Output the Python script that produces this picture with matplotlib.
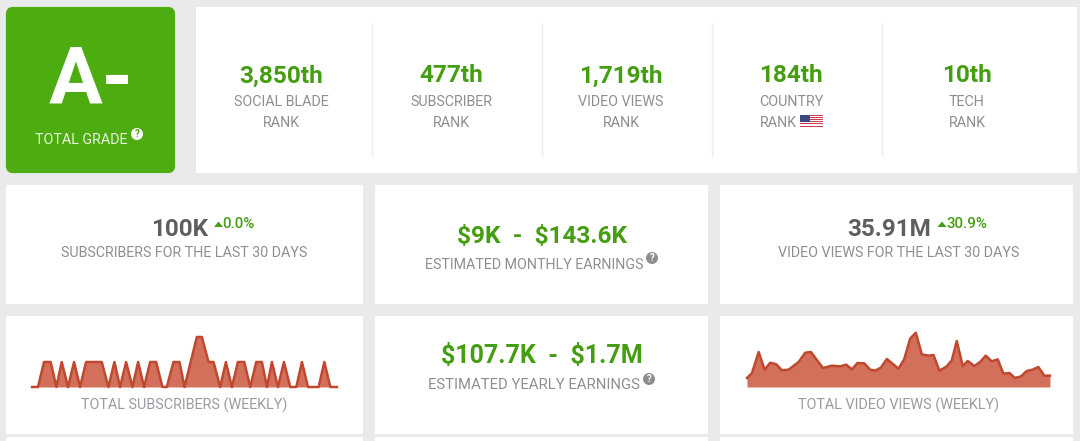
import matplotlib
matplotlib.use("Agg")
import matplotlib.pyplot as plt
from matplotlib.patches import Rectangle, FancyBboxPatch, Circle, Polygon

plt.rcParams["font.family"] = ["Roboto", "DejaVu Sans"]

grade = "A-"
rank_values = ["3,850th", "477th", "1,719th", "184th", "10th"]
rank_labels = [["SOCIAL BLADE", "RANK"], ["SUBSCRIBER", "RANK"], ["VIDEO VIEWS", "RANK"],
               ["COUNTRY", "RANK"], ["TECH", "RANK"]]

# weekly subscribers, x, y in steps
sub_x = [96, 114, 132, 152, 169, 185, 204, 222, 240, 258, 305, 325, 343, 360, 378, 397, 414, 432, 450, 468,
         487, 500, 520, 538, 553, 590, 605, 625, 640, 660, 677, 695, 713, 732, 750, 768, 785, 800, 815, 833,
         851, 870, 888, 905, 923, 955, 972, 990, 1010]
sub_y = [0, 0, 1, 1, 0, 1, 0, 1, 0, 1, 1, 0, 1, 0, 1, 0, 1, 0, 1, 1,
         0, 0, 1, 1, 0, 2, 2, 1, 1, 0, 1, 0, 1, 1, 0, 1, 1, 0, 1, 0,
         1, 0, 0, 1, 0, 0, 1, 0, 0]

# weekly video views, same idea
view_x = [80, 95, 115, 133, 150, 168, 185, 205, 235, 255, 272, 308, 335, 360, 378, 395, 412, 432, 450, 465,
          482, 500, 535, 552, 570, 587, 605, 625, 640, 658, 680, 695, 710, 728, 743, 763, 780, 797, 815, 833,
          850, 868, 885, 903, 920, 938, 955, 973, 990]
view_y = [27, 42, 105, 52, 73, 68, 50, 52, 75, 103, 105, 57, 64, 62, 67, 53, 72, 71, 52, 49,
          58, 84, 55, 83, 145, 163, 98, 94, 96, 49, 62, 80, 138, 63, 78, 63, 75, 94, 77, 83,
          40, 42, 27, 32, 48, 52, 60, 34, 34]

BG = "#e9eaec"
GREEN = "#459e12"
GREY = "#8e8e8e"
DARK = "#5f5f5f"

fig = plt.figure(figsize=(10.8, 4.41), dpi=100, facecolor=BG)
ax = fig.add_axes([0, 0, 1, 1])
ax.set_xlim(0, 1080)
ax.set_ylim(441, 0)
ax.axis("off")


def card(x0, y0, x1, y1):
    ax.add_patch(Rectangle((x0, y0), x1 - x0, y1 - y0, fc="white", ec="none", zorder=1))


def txt(x, y, s, size, color=GREY, weight="normal", ha="center"):
    ax.text(x, y, s, fontsize=size, color=color, fontweight=weight, ha=ha, va="center", zorder=3)


def help_icon(x, y, fc="#8e8e8e", fg="white"):
    ax.add_patch(Circle((x, y), 6, fc=fc, ec="none", zorder=3))
    ax.text(x, y + 0.3, "?", fontsize=7, color=fg, fontweight="bold", ha="center", va="center", zorder=4)


def up_arrow(x, y):
    ax.add_patch(Polygon([(x - 4.5, y + 3), (x + 4.5, y + 3), (x, y - 2.5)], fc=GREEN, ec="none", zorder=3))


# grade box
ax.add_patch(FancyBboxPatch((8, 9), 165, 162, boxstyle="round,pad=0,rounding_size=5", fc="#4cac10",
                            ec="#4cac10", lw=3, zorder=1))
txt(91, 82, grade, 57.5, color="white", weight="bold")
txt(81, 140, "TOTAL GRADE", 10.3, color="#e8f5df")
help_icon(137, 134, fc="white", fg="#4cac10")

# ranks
card(196, 7, 1077, 173)
for x in [372, 542, 712, 882]:
    ax.plot([x, x], [24, 156], color="#eeeeee", lw=1, zorder=2)
rank_cx = [281, 451, 621, 791, 967]
for cx, val, lab in zip(rank_cx, rank_values, rank_labels):
    txt(cx, 76, val, 17.6, color=GREEN, weight="bold")
    txt(cx, 102, lab[0], 10.3)
    if lab[0] == "COUNTRY":
        txt(cx - 13, 123, lab[1], 10.3)
    else:
        txt(cx, 123, lab[1], 10.3)

# little flag next to the country rank
ax.add_patch(Rectangle((800, 115), 23, 12.5, fc="white", ec="none", zorder=3))
for i in range(0, 7):
    ax.add_patch(Rectangle((800, 115 + i * 1.9), 23, 0.95, fc="#d2384e", ec="none", zorder=4))
ax.add_patch(Rectangle((800, 115), 9.5, 7, fc="#3c4a80", ec="none", zorder=5))

# middle row
card(6, 185, 363, 304)
card(375, 185, 708, 304)
card(720, 185, 1073, 304)
txt(180, 229, "100K", 17.5, color=DARK, weight="bold")
up_arrow(218.5, 224)
txt(222.5, 223.5, "0.0%", 10.8, color=GREEN, weight="medium", ha="left")
txt(184.5, 253, "SUBSCRIBERS FOR THE LAST 30 DAYS", 10.3)
txt(542, 236.5, r"\$9K  -  \$143.6K", 17.6, color=GREEN, weight="bold")
txt(534, 265, "ESTIMATED MONTHLY EARNINGS", 10.3)
help_icon(652, 258)
txt(889, 229, "35.91M", 17.5, color=DARK, weight="bold")
up_arrow(942, 224)
txt(946.5, 223.5, "30.9%", 10.8, color=GREEN, weight="medium", ha="left")
txt(899, 253, "VIDEO VIEWS FOR THE LAST 30 DAYS", 10.3)

# bottom row
card(6, 316, 363, 434)
card(375, 316, 708, 434)
card(720, 316, 1073, 434)
txt(542, 356, r"\$107.7K  -  \$1.7M", 18, color=GREEN, weight="bold")
txt(534, 385, "ESTIMATED YEARLY EARNINGS", 10.7)
help_icon(649, 379)
txt(184.5, 405, "TOTAL SUBSCRIBERS (WEEKLY)", 10.4, color="#9a9aa0")
txt(899, 405, "TOTAL VIDEO VIEWS (WEEKLY)", 10.4, color="#9a9aa0")

# start of the next row
card(6, 437, 363, 441)
card(375, 437, 708, 441)
card(720, 437, 1073, 441)


def spark(x0, x1, y_top, y_base, xs, ys, ymax):
    a = fig.add_axes([x0 / 1080, 1 - y_base / 441, (x1 - x0) / 1080, (y_base - y_top) / 441], zorder=5)
    a.patch.set_alpha(0)
    a.axis("off")
    a.set_xlim(min(xs), max(xs))
    a.set_ylim(0, ymax)
    a.fill_between(xs, ys, 0, color="#d2705c", lw=0)
    a.plot(xs, ys, color="#c0482e", lw=1.8, clip_on=False, solid_joinstyle="round")


spark(32, 337, 337, 387, sub_x, sub_y, 2)
spark(747, 1050, 332, 387, view_x, view_y, 165)

fig.savefig("out.png", dpi=100, facecolor=BG)
